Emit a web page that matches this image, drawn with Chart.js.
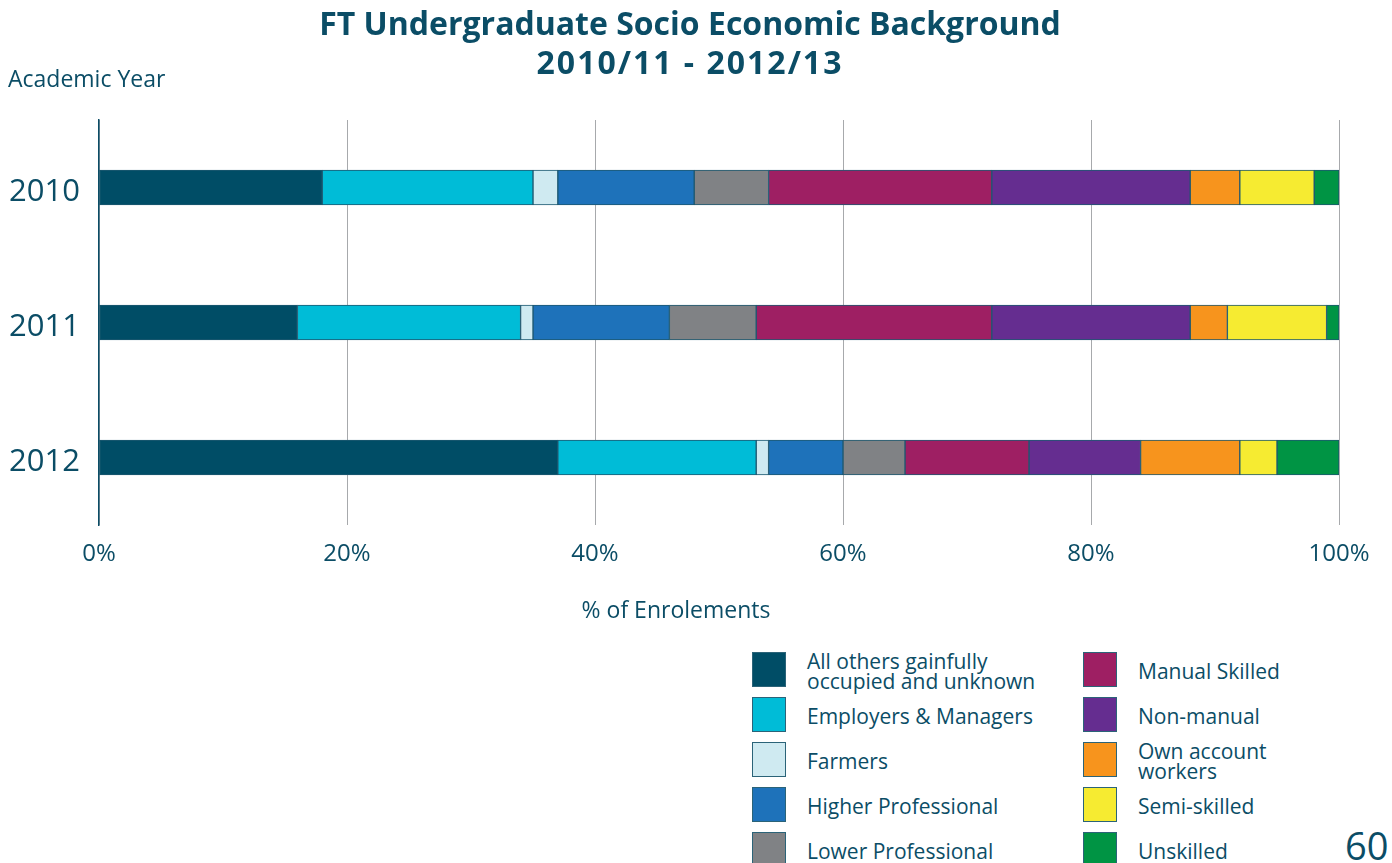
<!DOCTYPE html>
<html>
<head>
<meta charset="utf-8">
<script src="https://cdn.jsdelivr.net/npm/chart.js@4.4.1/dist/chart.umd.min.js"></script>
<style>
  body { margin: 0; background: #fff; font-family: "Open Sans", sans-serif; color: #0b4d66; }
  #page { position: relative; width: 1392px; height: 863px; overflow: hidden; }
  #chartBox { position: absolute; left: 0; top: 0; width: 1392px; height: 640px; }
  .txt { position: absolute; white-space: nowrap; }
  #title { left: 290px; width: 800px; top: 3px; text-align: center; font-weight: bold; font-size: 32px; line-height: 39px; }
  #title .l2 { letter-spacing: 2px; }
  #ylab { left: 8px; top: 62px; font-size: 23px; }
  #xlab { left: 476px; width: 400px; top: 593px; text-align: center; font-size: 23px; }
  #pageno { left: 1345px; top: 819px; font-size: 38px; }
  #legend { position: absolute; left: 752px; top: 652px; display: grid; grid-template-rows: repeat(5, 45px);
            grid-auto-flow: column; grid-template-columns: 331px 280px; }
  .item { display: flex; align-items: flex-start; }
  .box { width: 34px; height: 35px; box-sizing: border-box; border: 1px solid #2b6378; flex: none; }
  .lab { margin-left: 21px; font-size: 21px; line-height: 20px; white-space: pre; height: 35px; padding-top: 3px;
         box-sizing: border-box; display: flex; align-items: center; }
</style>
</head>
<body>
<div id="page">
  <div id="chartBox"><canvas id="socioChart"></canvas></div>
  <div class="txt" id="title">FT Undergraduate Socio Economic Background<br><span class="l2">2010/11 - 2012/13</span></div>
  <div class="txt" id="ylab">Academic Year</div>
  <div class="txt" id="xlab">% of Enrolements</div>
  <div id="legend"></div>
  <div class="txt" id="pageno">60</div>
</div>
<script>
// Data (percent of enrolments per academic year)
const years = ['2010', '2011', '2012'];
const xTicks = [0, 20, 40, 60, 80, 100];
const allOthers     = [18, 16, 37];
const employers     = [17, 18, 16];
const farmers       = [2, 1, 1];
const higherProf    = [11, 11, 6];
const lowerProf     = [6, 7, 5];
const manualSkilled = [18, 19, 10];
const nonManual     = [16, 16, 9];
const ownAccount    = [4, 3, 8];
const semiSkilled   = [6, 8, 3];
const unskilled     = [2, 1, 5];

const seriesNames = ['All others gainfully\noccupied and unknown', 'Employers & Managers', 'Farmers',
  'Higher Professional', 'Lower Professional', 'Manual Skilled', 'Non-manual', 'Own account\nworkers',
  'Semi-skilled', 'Unskilled'];
const seriesData = [allOthers, employers, farmers, higherProf, lowerProf, manualSkilled, nonManual,
  ownAccount, semiSkilled, unskilled];
const seriesColors = ['#004d66', '#00bcd7', '#cfeaf1', '#1e72ba', '#808285', '#9e1f63', '#652d90',
  '#f7941d', '#f6eb31', '#009444'];

const textColor = '#0b4d66';

const ctx = document.getElementById('socioChart').getContext('2d');
const chart = new Chart(ctx, {
  type: 'bar',
  data: {
    labels: years,
    datasets: seriesNames.map((name, i) => ({
      label: name,
      data: seriesData[i],
      backgroundColor: seriesColors[i],
      borderColor: '#1d5870',
      borderWidth: 1,
      borderSkipped: false,
      barThickness: 35
    }))
  },
  options: {
    indexAxis: 'y',
    responsive: true,
    maintainAspectRatio: false,
    animation: false,
    layout: { padding: { top: 120, right: 53, left: 0, bottom: 0 } },
    plugins: {
      legend: { display: false },
      tooltip: { enabled: false }
    },
    scales: {
      x: {
        stacked: true,
        min: 0,
        max: 100,
        afterBuildTicks: (axis) => { axis.ticks = xTicks.map(v => ({ value: v })); },
        afterFit: (axis) => { axis.height = 115; },
        ticks: {
          callback: (v) => v + '%',
          color: textColor,
          font: { family: 'Open Sans', size: 24 },
          padding: 15,
          maxRotation: 0
        },
        grid: { color: '#a7a9ac', lineWidth: 1, drawTicks: false },
        border: { display: false }
      },
      y: {
        stacked: true,
        afterFit: (axis) => { axis.width = 99; },
        ticks: {
          color: textColor,
          font: { family: 'Open Sans', size: 31 },
          padding: 19,
          labelOffset: 5
        },
        grid: { display: false, drawTicks: false },
        border: { display: true, color: '#0b4d66', width: 1.5 }
      }
    }
  }
});

// Legend built from the chart datasets
const legend = document.getElementById('legend');
chart.data.datasets.forEach(ds => {
  const item = document.createElement('div');
  item.className = 'item';
  const box = document.createElement('div');
  box.className = 'box';
  box.style.background = ds.backgroundColor;
  const lab = document.createElement('div');
  lab.className = 'lab';
  lab.textContent = ds.label;
  item.appendChild(box);
  item.appendChild(lab);
  legend.appendChild(item);
});
</script>
</body>
</html>
